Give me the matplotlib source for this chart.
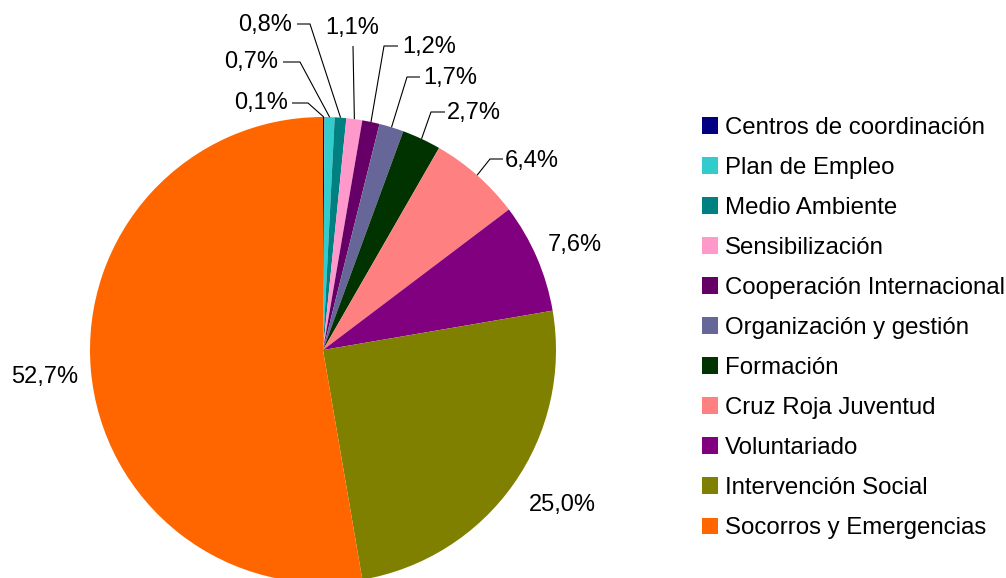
import numpy as np
import matplotlib
matplotlib.use("Agg")
import matplotlib.pyplot as plt

W, H = 1006, 578

# --- data ---
categories = [
    "Centros de coordinación",
    "Plan de Empleo",
    "Medio Ambiente",
    "Sensibilización",
    "Cooperación Internacional",
    "Organización y gestión",
    "Formación",
    "Cruz Roja Juventud",
    "Voluntariado",
    "Intervención Social",
    "Socorros y Emergencias",
]
shares = [0.1, 0.7, 0.8, 1.1, 1.2, 1.7, 2.7, 6.4, 7.6, 25.0, 52.7]
colors = [
    "#000080", "#33CCCC", "#008080", "#FF99CC", "#660066", "#666699",
    "#003300", "#FF8080", "#800080", "#808000", "#FF6600",
]

# --- layout (pixels, measured from the top-left corner) ---
CX, CY, R = 323, 350, 233
# text anchor x, text y, ha, knee point (or None), line end near text
label_layout = [
    (288, 103, "right", (308, 103), (292, 103)),
    (278, 62, "right", (300, 62), (283, 62)),
    (292, 25, "right", (310, 24), (297, 24)),
    (352, 28, "center", None, (353, 46)),
    (402, 47, "left", (384, 46), (398, 46)),
    (423, 78, "left", (407, 77), (420, 77)),
    (447, 113, "left", (431, 112), (445, 112)),
    (505, 161, "left", (490, 159), (503, 159)),
    (548, 245, "left", None, None),
    (562, 505, "center", None, None),
    (45, 377, "center", None, None),
]

FONT = "Liberation Sans"
FS_LABEL = 17
FS_LEGEND = 17.3


def fy(y):
    return H - y


fig = plt.figure(figsize=(W / 100, H / 100), dpi=100)
ax = fig.add_axes([0, 0, 1, 1])

wedges, _ = ax.pie(
    shares,
    colors=colors,
    startangle=90,
    counterclock=False,
    center=(CX, fy(CY)),
    radius=R,
    wedgeprops=dict(linewidth=0),
)
ax.set_xlim(0, W)
ax.set_ylim(0, H)
ax.set_aspect("auto")
ax.set_axis_off()

for w, val, (tx, ty, ha, knee, end) in zip(wedges, shares, label_layout):
    label = f"{val:.1f}%".replace(".", ",")
    ax.text(tx, fy(ty), label, ha=ha, va="center", fontsize=FS_LABEL, family=FONT)
    if end is None:
        continue
    # leader line starts on the rim at the wedge's mid-angle
    mid = np.deg2rad((w.theta1 + w.theta2) / 2)
    ex = CX + R * np.cos(mid)
    ey = fy(CY) + R * np.sin(mid)
    pts = [(ex, ey)]
    if knee is not None:
        pts.append((knee[0], fy(knee[1])))
    pts.append((end[0], fy(end[1])))
    xs, ys = zip(*pts)
    ax.plot(xs, ys, color="black", lw=0.8, solid_capstyle="butt")

leg = ax.legend(
    wedges,
    categories,
    loc="center left",
    bbox_to_anchor=(702 / W, 1 - 328 / H),
    frameon=False,
    prop={"family": FONT, "size": FS_LEGEND},
    handlelength=0.67,
    handleheight=0.67,
    handletextpad=0.29,
    labelspacing=0.75,
    borderaxespad=0,
    borderpad=0,
)

fig.savefig("out.png", dpi=100)
